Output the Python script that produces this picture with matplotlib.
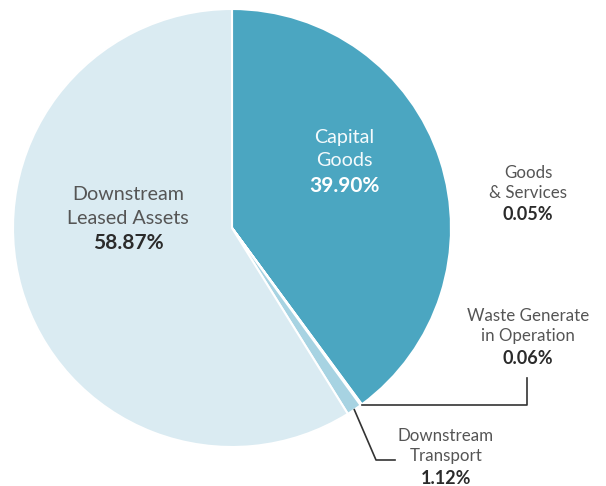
import matplotlib.pyplot as plt
import numpy as np

plt.rcParams['font.family'] = ['Lato', 'DejaVu Sans']

labels = ['Capital\nGoods', 'Goods\n& Services', 'Waste Generate\nin Operation',
          'Downstream\nTransport', 'Downstream\nLeased Assets']
shares = [39.90, 0.05, 0.06, 1.12, 58.87]
colors = ['#4ba6c1', '#3d8fa8', '#3d8fa8', '#a7d3e2', '#daebf2']

W, H = 606, 486
fig = plt.figure(figsize=(W / 100, H / 100), dpi=100)
ax = fig.add_axes([0, 0, 1, 1])

cx, cy, r = 232, H - 228, 219
wedges, _ = ax.pie(shares, colors=colors, startangle=90, counterclock=False,
                   center=(cx, cy), radius=r, frame=True,
                   wedgeprops=dict(edgecolor='white', linewidth=1.5))
ax.set_xlim(0, W)
ax.set_ylim(0, H)
ax.axis('off')


def edge_point(w, frac=0.5):
    a = np.deg2rad(w.theta1 + (w.theta2 - w.theta1) * frac)
    return cx + r * np.cos(a), cy + r * np.sin(a)


# label spots in pixels: x, first line y, name size, pct size, line gap, colors
spots = [
    (344, 138, 14.2, 15, 23, '#f4fafc', 'white'),
    (528, 173, 12.2, 13, 20, '#555555', '#2b2b2b'),
    (528, 316, 12.2, 13, 20, '#555555', '#2b2b2b'),
    (446, 436, 12.2, 13, 20, '#555555', '#2b2b2b'),
    (128, 195, 14.2, 15, 23, '#555555', '#2b2b2b'),
]

for lab, val, (x, y, fs, fb, gap, c1, c2) in zip(labels, shares, spots):
    lines = lab.split('\n')
    for i, ln in enumerate(lines):
        ax.text(x, H - (y + i * gap), ln, ha='center', va='center',
                fontsize=fs, color=c1)
    ax.text(x, H - (y + len(lines) * gap + 2), f'{val:.2f}%', ha='center',
            va='center', fontsize=fb, color=c2, fontweight='bold')

# leader lines
px, py = edge_point(wedges[2])
ax.plot([px + 1, 527, 527], [py, py, H - 378], color='#333333', lw=1.2)
px, py = edge_point(wedges[3])
ax.plot([px, 376, 395], [py, H - 460, H - 460], color='#333333', lw=1.2)

fig.savefig('out.png', dpi=100)
